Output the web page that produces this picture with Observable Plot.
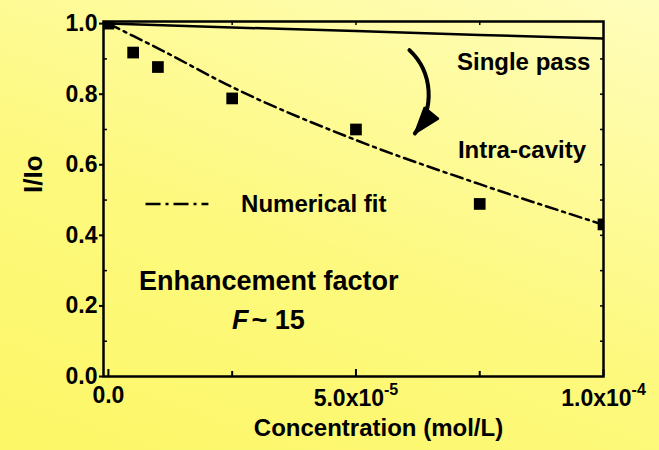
<!DOCTYPE html>
<html>
<head>
<meta charset="utf-8">
<script src="https://cdn.jsdelivr.net/npm/d3@7"></script>
<script src="https://cdn.jsdelivr.net/npm/@observablehq/plot@0.6"></script>
<style>
  html, body { margin: 0; padding: 0; }
  body {
    width: 659px; height: 450px; overflow: hidden;
    background: linear-gradient(200deg, #fffdbc 0%, #fdf97e 55%, #fcf766 100%);
  }
  #chart svg { display: block; }
</style>
</head>
<body>
<div id="chart"></div>
<script>
// Measured transmission I/Io of the intra-cavity cell versus dye concentration
const concentration = [0, 0.5e-5, 1e-5, 2.5e-5, 5e-5, 7.5e-5, 1e-4];
const measured = [1.0, 0.918, 0.877, 0.788, 0.70, 0.489, 0.431];

// Numerical fit (dash-dot curve)
const fitConcentration = [0, 0.5e-5, 1e-5, 2.5e-5, 5e-5, 7.5e-5, 1e-4];
const fitValues = [1.0, 0.965, 0.93, 0.82, 0.67, 0.545, 0.43];

// Single-pass transmission (solid line)
const singleConcentration = [0, 2.5e-5, 5e-5, 7.5e-5, 1e-4];
const singleValues = [1.0, 0.989, 0.979, 0.968, 0.958];

// Axis ticks and their labels
const xMajorTicks = [0, 5e-5, 1e-4];
const xMinorTicks = [2.5e-5, 7.5e-5];
const xTickLabels = ["0.0", "5.0x10^-5", "1.0x10^-4"];
const xTopTicks = [2.5e-5, 5e-5, 7.5e-5];
const yMajorTicks = [0, 0.2, 0.4, 0.6, 0.8, 1.0];
const yTickLabels = ["0.0", "0.2", "0.4", "0.6", "0.8", "1.0"];
const yMinorTicks = [0.1, 0.3, 0.5, 0.7, 0.9];
const yRightTicks = [0.1, 0.2, 0.3, 0.4, 0.5, 0.6, 0.7, 0.8, 0.9];

// Axis titles
const xTitle = "Concentration (mol/L)";
const yTitle = "I/Io";

// Annotations, anchored in data units
const curveLabels = [
  {x: 7.04e-5, y: 0.891, text: "Single pass"},
  {x: 7.06e-5, y: 0.642, text: "Intra-cavity"},
  {x: 2.68e-5, y: 0.489, text: "Numerical fit"}
];
const legendSample = {x1: 0.76e-5, x2: 2.03e-5, y: 0.489};
const factorLabel = {x: 3.24e-5, y: 0.271, text: "Enhancement factor"};
const factorSymbol = {x: 2.87e-5, y: 0.160, symbol: "F", value: "~ 15"};
const bendArrow = {x1: 6.08e-5, y1: 0.925, x2: 6.19e-5, y2: 0.689};

const measuredRows = concentration.map((c, i) => ({c, v: measured[i]}));
const fitRows = fitConcentration.map((c, i) => ({c, v: fitValues[i]}));
const singleRows = singleConcentration.map((c, i) => ({c, v: singleValues[i]}));

const dashDot = "12,5,3,5";
const noLabel = () => "";

const chart = Plot.plot({
  width: 659,
  height: 450,
  marginLeft: 103,
  marginRight: 56,
  marginTop: 21,
  marginBottom: 74,
  style: {
    fontFamily: "'Liberation Sans', Arial, sans-serif",
    fontWeight: "bold",
    background: "none",
    color: "black",
    overflow: "visible"
  },
  x: {domain: [-0.099e-5, 1e-4]},
  y: {domain: [0, 1.006]},
  marks: [
    // axes: outward majors on the left, inward ticks elsewhere
    Plot.axisX(xMajorTicks, {anchor: "bottom", tickSize: -7, tickPadding: 17, strokeWidth: 2,
      tickFormat: d => xTickLabels[xMajorTicks.indexOf(d)], fontSize: 23, label: null}),
    Plot.axisX(xMinorTicks, {anchor: "bottom", tickSize: -5, strokeWidth: 2, tickFormat: noLabel, label: null}),
    Plot.axisX(xTopTicks, {anchor: "top", tickSize: -3, strokeWidth: 1.5, tickFormat: noLabel, label: null}),
    Plot.axisY(yMajorTicks, {anchor: "left", tickSize: 4, tickPadding: 2, strokeWidth: 2,
      tickFormat: d => yTickLabels[yMajorTicks.indexOf(d)], fontSize: 23, label: null}),
    Plot.axisY(yMinorTicks, {anchor: "left", tickSize: -4, strokeWidth: 1.5, tickFormat: noLabel, label: null}),
    Plot.axisY(yRightTicks, {anchor: "right", tickSize: -4, strokeWidth: 1.5, tickFormat: noLabel, label: null}),
    Plot.frame({stroke: "black", strokeWidth: 2.5}),

    // curves and measurements
    Plot.line(singleRows, {x: "c", y: "v", stroke: "black", strokeWidth: 2.5, clip: true}),
    Plot.line(fitRows, {x: "c", y: "v", curve: "monotone-x", stroke: "black", strokeWidth: 2.5,
      strokeDasharray: dashDot, clip: true}),
    Plot.dot(measuredRows, {x: "c", y: "v", symbol: "square", r: 6.6, fill: "black", clip: true}),

    // legend sample for the fit
    Plot.ruleY([legendSample.y], {x1: legendSample.x1, x2: legendSample.x2, stroke: "black",
      strokeWidth: 2.5, strokeDasharray: "15,5,3,5"}),

    // curve annotations
    Plot.text(curveLabels, {x: "x", y: "y", text: "text", textAnchor: "start", fontSize: 24}),
    Plot.text([factorLabel], {x: "x", y: "y", text: "text", textAnchor: "middle", fontSize: 27}),
    Plot.text([factorSymbol], {x: "x", y: "y", text: "symbol", textAnchor: "end", fontSize: 27,
      fontStyle: "italic", dx: -2}),
    Plot.text([factorSymbol], {x: "x", y: "y", text: "value", textAnchor: "start", fontSize: 27, dx: 1}),

    // curved arrow from single pass down to intra-cavity
    Plot.arrow([bendArrow], {x1: "x1", y1: "y1", x2: "x2", y2: "y2", bend: 43, stroke: "black",
      strokeWidth: 4, headLength: 20, headAngle: 38, strokeLinecap: "round"}),

    // axis titles
    Plot.text([xTitle], {frameAnchor: "bottom", dx: 25, dy: 59, fontSize: 24, text: d => d}),
    Plot.text([yTitle], {frameAnchor: "left", rotate: -90, dx: -70, dy: -6, fontSize: 26, text: d => d})
  ]
});

// Render "10^-5" style tick labels with a raised exponent
d3.select(chart).selectAll('g[aria-label="x-axis tick label"] text').each(function () {
  const label = this.textContent;
  if (!label.includes("^")) return;
  const [base, exponent] = label.split("^");
  const t = d3.select(this);
  t.text(null);
  t.append("tspan").attr("dy", 3).text(base);
  t.append("tspan").attr("dy", -11).attr("font-size", 16).text(exponent);
});

// Close the arrowhead into a solid triangle
d3.select(chart).selectAll('g[aria-label="arrow"] path').each(function () {
  const d = this.getAttribute("d");
  const split = d.lastIndexOf("M");
  if (split <= 0) return;
  this.setAttribute("d", d.slice(0, split));
  d3.select(this.parentNode).append("path")
    .attr("d", d.slice(split) + "Z")
    .attr("fill", "black")
    .attr("stroke", "black")
    .attr("stroke-width", 2)
    .attr("stroke-linejoin", "miter");
});

document.getElementById("chart").append(chart);
</script>
</body>
</html>
